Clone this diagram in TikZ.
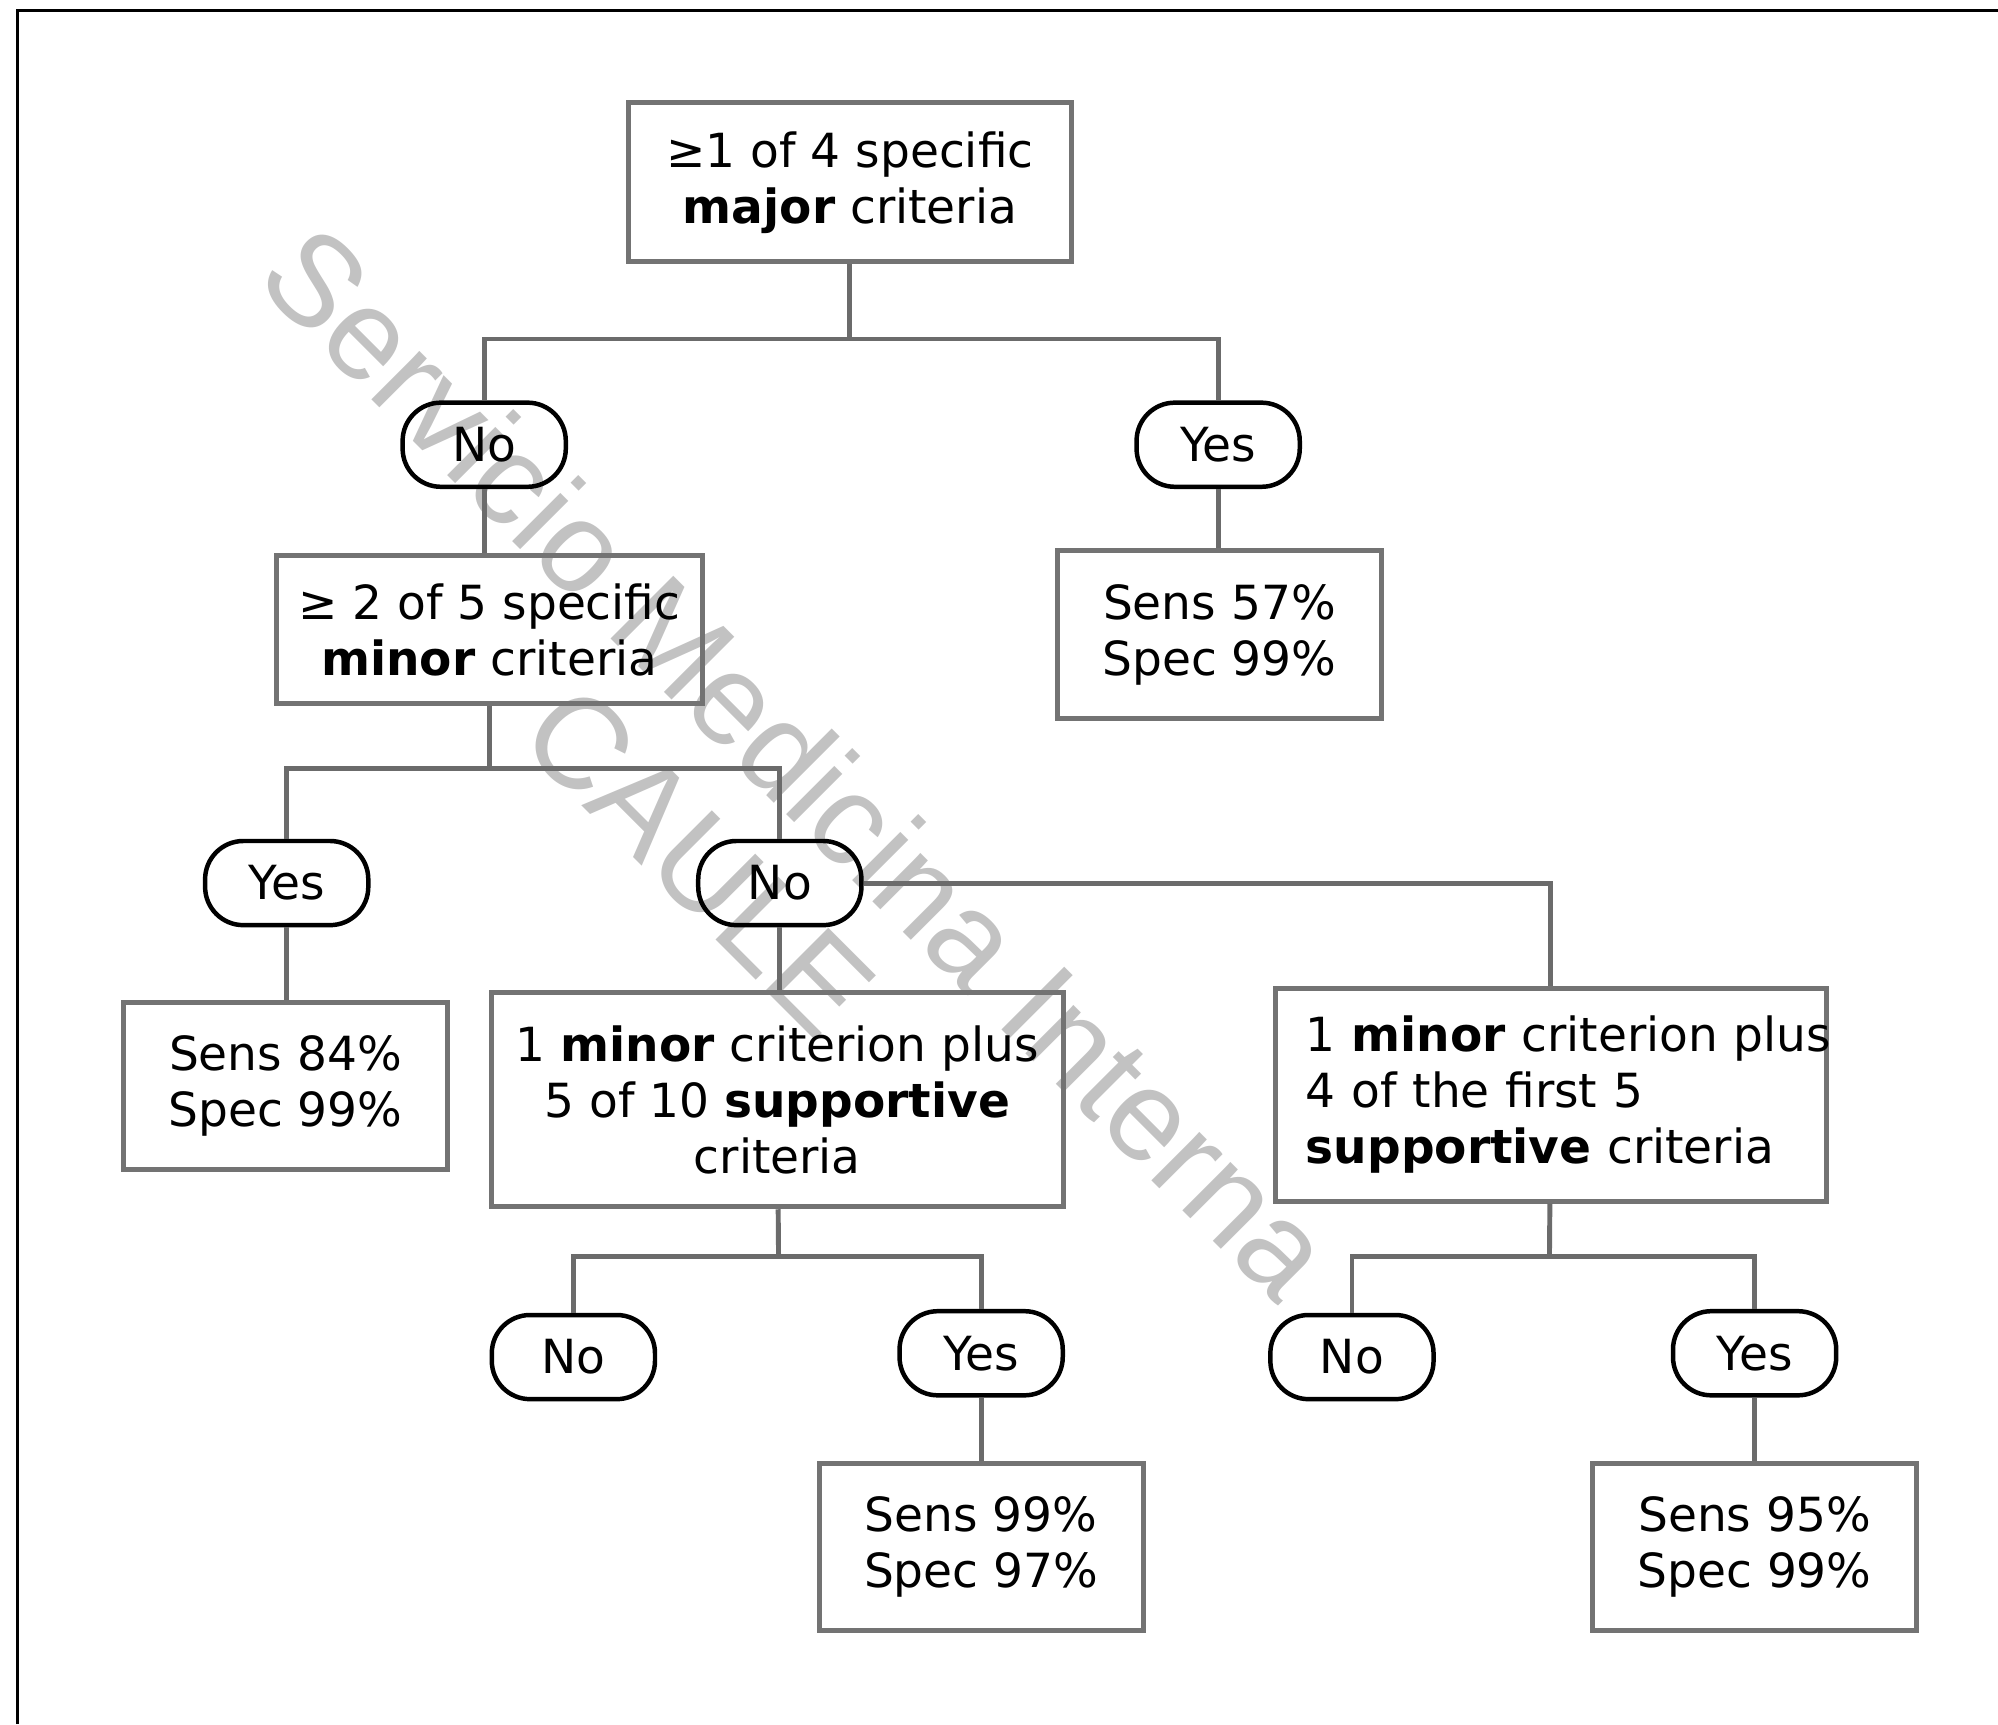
\documentclass[tikz,border=0pt]{standalone}
\usepackage{fontspec}
\setmainfont{DejaVu Sans}
\newfontfamily\wmfont{Liberation Sans}
\definecolor{linegray}{gray}{0.42}
\definecolor{boxgray}{gray}{0.45}
\definecolor{wmgray}{gray}{0.76}

\begin{document}
\begin{tikzpicture}
  [x=0.01cm,y=-0.01cm,
   every node/.style={font=\fontsize{10.5}{12.5}\selectfont},
   crit/.style={draw=boxgray,line width=1.1pt,align=center,inner sep=0pt},
   res/.style={crit,minimum width=2.54cm,minimum height=1.31cm},
   ans/.style={draw=black,line width=1pt,rounded corners=0.3cm,minimum width=1.28cm,minimum height=0.66cm,inner sep=0pt},
   conn/.style={draw=linegray,line width=1.1pt}]
  \useasboundingbox (0,0) rectangle (1568,1353);

  % watermark
  \node[font=\wmfont\fontsize{28.8}{31}\selectfont,text=wmgray,rotate=-45,align=center] (wm) at (588,636) {Servicio Medicina Interna\\CAULE};

  \draw[line width=0.7pt] (14,1353) -- (14,8) -- (1568,8);

  % criteria boxes
  \node[crit,minimum width=3.47cm,minimum height=1.25cm] (top) at (667,143) {≥1 of 4 specific\\\textbf{major} criteria};
  \node[crit,minimum width=3.34cm,minimum height=1.16cm] (minor) at (384,494) {≥ 2 of 5 specific\\\textbf{minor} criteria};
  \node[crit,minimum width=4.49cm,minimum height=1.68cm] (mbox) at (610,863) {1 \textbf{minor} criterion plus\\5 of 10 \textbf{supportive}\\criteria};
  \node[crit,align=left,text width=3.84cm,minimum width=4.32cm,minimum height=1.67cm] (rbox) at (1217,859) {\mbox{1 \textbf{minor} criterion plus}\\4 of the first 5\\\mbox{\textbf{supportive} criteria}};

  % results
  \node[res,minimum height=1.32cm] (s57) at (957,498) {Sens 57\%\\Spec 99\%};
  \node[res] (s84) at (224,852) {Sens 84\%\\Spec 99\%};
  \node[res] (s99) at (770,1214) {Sens 99\%\\Spec 97\%};
  \node[res] (s95) at (1377,1214) {Sens 95\%\\Spec 99\%};

  % answers
  \node[ans] (no1) at (380,349) {No};
  \node[ans] (yes1) at (956,349) {Yes};
  \node[ans] (yes2) at (225,693) {Yes};
  \node[ans] (no2) at (612,693) {No};
  \node[ans] (no3) at (450,1065) {No};
  \node[ans] (yes3) at (770,1062) {Yes};
  \node[ans] (no4) at (1061,1065) {No};
  \node[ans] (yes4) at (1377,1062) {Yes};

  \coordinate (j1) at (667,266);
  \coordinate (j2) at (384,603);
  \coordinate (j3) at (611,986);
  \coordinate (j4) at (1216,986);

  \foreach \from/\to in {top/j1, minor/j2, mbox/j3, rbox/j4}
    \draw[conn] (\from) -- (\to);
  \foreach \from/\to in {j1/no1, j1/yes1, j2/yes2, j2/no2, j3/no3, j3/yes3, j4/no4, j4/yes4, no2/rbox}
    \draw[conn] (\from) -| (\to);
  \foreach \from/\to in {no1/minor, yes1/s57, yes2/s84, no2/mbox, yes3/s99, yes4/s95}
    \draw[conn] (\from) -- (\from |- \to.north);

\end{tikzpicture}
\end{document}
